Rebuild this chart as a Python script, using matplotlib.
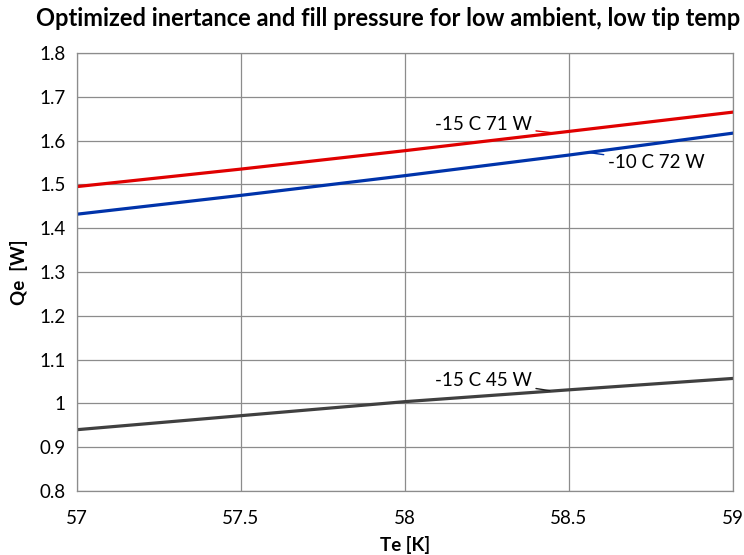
import matplotlib
matplotlib.use("Agg")
import matplotlib.pyplot as plt

# values
te = [57, 57.5, 58, 58.5, 59]
qe_15c_71w = [1.495, 1.535, 1.577, 1.621, 1.665]
qe_10c_72w = [1.432, 1.475, 1.520, 1.567, 1.617]
qe_15c_45w = [0.940, 0.972, 1.004, 1.031, 1.057]

x_ticks = [57, 57.5, 58, 58.5, 59]
x_tick_labels = ["57", "57.5", "58", "58.5", "59"]
y_ticks = [0.8, 0.9, 1.0, 1.1, 1.2, 1.3, 1.4, 1.5, 1.6, 1.7, 1.8]
y_tick_labels = ["0.8", "0.9", "1", "1.1", "1.2", "1.3", "1.4", "1.5", "1.6", "1.7", "1.8"]

plt.rcParams["font.family"] = ["Lato", "DejaVu Sans"]

fig = plt.figure(figsize=(7.44, 5.55), dpi=100)
ax = fig.add_axes([0.1035, 0.1153, 0.8815, 0.7892])

ax.plot(te, qe_15c_71w, color="#e00000", lw=2.3)
ax.plot(te, qe_10c_72w, color="#0033aa", lw=2.3)
ax.plot(te, qe_15c_45w, color="#404040", lw=2.3)

ax.set_xlim(57, 59)
ax.set_ylim(0.8, 1.8)
ax.set_xticks(x_ticks)
ax.set_xticklabels(x_tick_labels)
ax.set_yticks(y_ticks)
ax.set_yticklabels(y_tick_labels)
ax.tick_params(length=0, labelsize=13.5, pad=8)
ax.tick_params(axis="x", pad=14)
ax.grid(True, color="#8c8c8c", lw=0.9)
for s in ax.spines.values():
    s.set_color("#8c8c8c")
    s.set_linewidth(0.9)

ax.set_xlabel("Te [K]", fontsize=13.5, fontweight="bold", labelpad=6)
ax.set_ylabel("Qe  [W]", fontsize=13.5, fontweight="bold", labelpad=8)
fig.suptitle("Optimized inertance and fill pressure for low ambient, low tip temp",
             fontsize=17, fontweight="bold", x=0.522, y=0.987)

# leader-line labels
ax.annotate("-15 C 71 W", xy=(58.448, 1.618), xytext=(58.387, 1.636),
            ha="right", va="center", fontsize=13.5,
            arrowprops=dict(arrowstyle="-", color="#e00000", lw=1, shrinkA=1, shrinkB=0))
ax.annotate("-10 C 72 W", xy=(58.558, 1.573), xytext=(58.619, 1.551),
            ha="left", va="center", fontsize=13.5,
            arrowprops=dict(arrowstyle="-", color="#0033aa", lw=1, shrinkA=1, shrinkB=0))
ax.annotate("-15 C 45 W", xy=(58.442, 1.029), xytext=(58.387, 1.053),
            ha="right", va="center", fontsize=13.5,
            arrowprops=dict(arrowstyle="-", color="#202020", lw=1, shrinkA=1, shrinkB=0))

fig.savefig("out.png", dpi=100)
